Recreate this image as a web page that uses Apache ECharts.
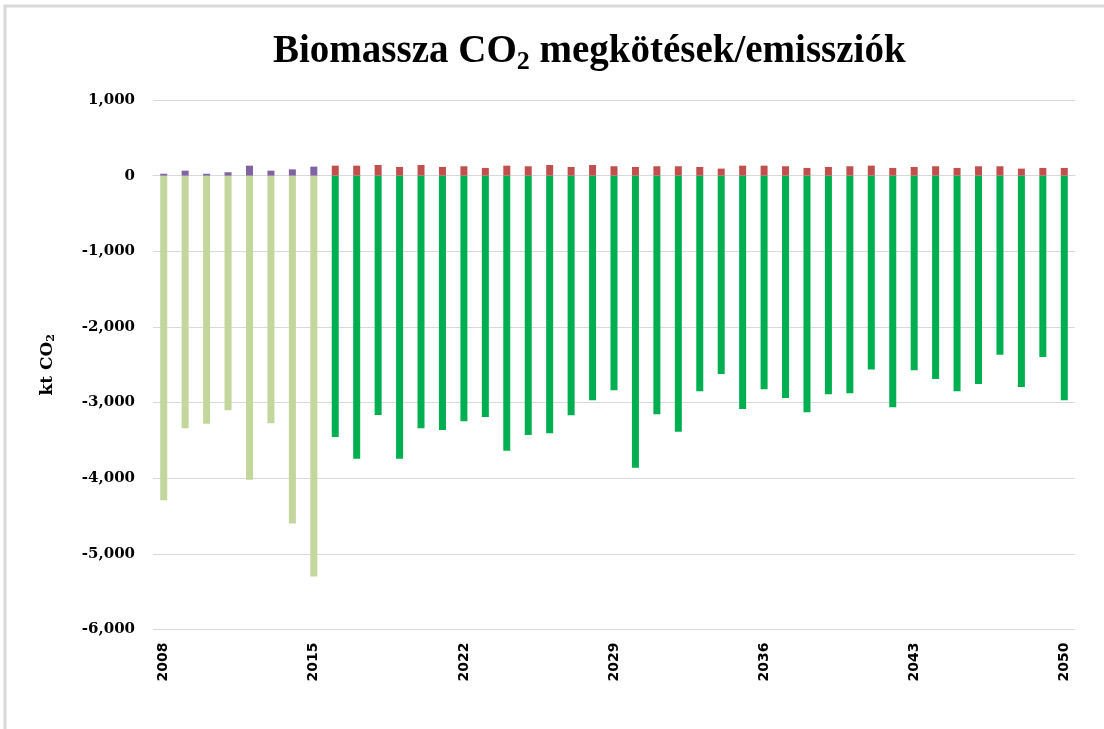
<!DOCTYPE html>
<html>
<head>
<meta charset="utf-8">
<script src="https://cdn.jsdelivr.net/npm/echarts@6/dist/echarts.min.js"></script>
<style>
html,body{margin:0;padding:0;background:#fff;}
#c{width:1104px;height:729px;}
</style>
</head>
<body>
<div id="c"></div>
<script>
var years = ['2008','2009','2010','2011','2012','2013','2014','2015','2016','2017','2018','2019','2020','2021','2022','2023','2024','2025','2026','2027','2028','2029','2030','2031','2032','2033','2034','2035','2036','2037','2038','2039','2040','2041','2042','2043','2044','2045','2046','2047','2048','2049','2050'];
var histNeg = [-4290,-3340,-3280,-3100,-4020,-3275,-4600,-5300];
var histPos = [25,66,25,45,132,66,83,119];
var projNeg = [-3455,-3742,-3164,-3742,-3340,-3362,-3248,-3190,-3636,-3429,-3407,-3168,-2970,-2837,-3861,-3155,-3385,-2851,-2621,-3085,-2824,-2939,-3129,-2890,-2877,-2563,-3062,-2572,-2687,-2851,-2753,-2369,-2793,-2396,-2970];
var projPos = [132,132,141,115,141,115,124,102,132,124,141,115,141,124,115,124,124,115,93,132,132,124,102,115,124,132,102,115,124,102,124,124,93,102,102];
var yTicks = [-6000,-5000,-4000,-3000,-2000,-1000,0,1000];

function pad(arr, before, after){
  var out = [];
  for (var i=0;i<before;i++) out.push(null);
  out = out.concat(arr);
  for (var j=0;j<after;j++) out.push(null);
  return out;
}
var nH = histNeg.length, nP = projNeg.length;

var chart = echarts.init(document.getElementById('c'));
var serif = 'DejaVu Serif';
chart.setOption({
  animation: false,
  backgroundColor: '#fff',
  graphic: [{
    type: 'rect', shape: {x: 5, y: 6, width: 1110, height: 740},
    style: {fill: 'none', stroke: '#D9D9D9', lineWidth: 3}, silent: true
  }],
  title: {
    text: '{a|Biomassza CO}{s|2}{a| megkötések/emissziók}',
    left: 268, top: 23,
    textStyle: {
      rich: {
        a: {fontFamily: 'Liberation Serif', fontWeight: 'bold', fontSize: 39, color: '#000', lineHeight: 48},
        s: {fontFamily: 'Liberation Serif', fontWeight: 'bold', fontSize: 26, color: '#000', lineHeight: 48, padding: [20,0,0,0]}
      }
    }
  },
  grid: {left: 153, right: 29, top: 100, bottom: 99.5},
  xAxis: {
    type: 'category',
    data: years,
    axisLine: {show: true, lineStyle: {color: '#D9D9D9'}},
    axisTick: {show: false},
    axisLabel: {interval: 6, rotate: 90, margin: 13, fontFamily: 'DejaVu Sans', fontWeight: 'bold', fontSize: 14, color: '#000'}
  },
  yAxis: {
    type: 'value',
    min: -6000, max: 1000, interval: 1000,
    name: '{a|kt CO}{s|2}',
    nameLocation: 'middle', nameRotate: 90, nameGap: 94,
    nameTextStyle: {
      rich: {
        a: {fontFamily: serif, fontWeight: 'bold', fontSize: 17, color: '#000', lineHeight: 22},
        s: {fontFamily: serif, fontWeight: 'bold', fontSize: 11, color: '#000', lineHeight: 22, padding: [7,0,0,0]}
      }
    },
    axisLine: {show: false},
    axisTick: {show: false},
    splitLine: {lineStyle: {color: '#D9D9D9', width: 1}},
    axisLabel: {
      margin: 18, fontFamily: serif, fontWeight: 'bold', fontSize: 15, color: '#000',
      formatter: function(v){ return yTicks.indexOf(v) >= 0 ? v.toLocaleString('en-US') : ''; }
    }
  },
  series: [
    {name: 'histNeg', type: 'bar', stack: 'a', barWidth: 7, itemStyle: {color: '#C3D69B'}, data: pad(histNeg, 0, nP)},
    {name: 'histPos', type: 'bar', stack: 'a', barWidth: 7, itemStyle: {color: '#8064A2'}, data: pad(histPos, 0, nP)},
    {name: 'projNeg', type: 'bar', stack: 'a', barWidth: 7, itemStyle: {color: '#00B050'}, data: pad(projNeg, nH, 0)},
    {name: 'projPos', type: 'bar', stack: 'a', barWidth: 7, itemStyle: {color: '#C0504D'}, data: pad(projPos, nH, 0)}
  ]
});
</script>
</body>
</html>
